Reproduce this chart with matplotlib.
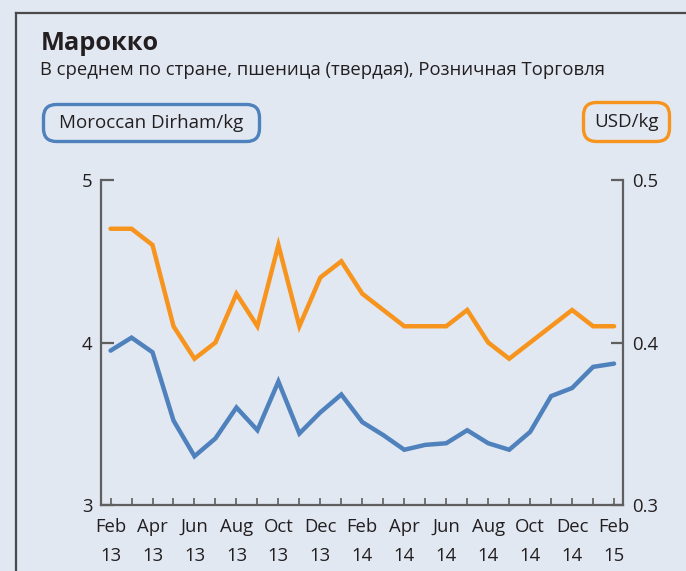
import matplotlib
matplotlib.use("Agg")
import matplotlib.pyplot as plt
from matplotlib.patches import FancyBboxPatch
from matplotlib.transforms import IdentityTransform
from matplotlib.lines import Line2D

# ---- data ----
months = ["Feb 13", "Mar 13", "Apr 13", "May 13", "Jun 13", "Jul 13", "Aug 13",
          "Sep 13", "Oct 13", "Nov 13", "Dec 13", "Jan 14", "Feb 14", "Mar 14",
          "Apr 14", "May 14", "Jun 14", "Jul 14", "Aug 14", "Sep 14", "Oct 14",
          "Nov 14", "Dec 14", "Jan 15", "Feb 15"]
tick_labels = ["Feb\n13", "", "Apr\n13", "", "Jun\n13", "", "Aug\n13", "", "Oct\n13", "",
               "Dec\n13", "", "Feb\n14", "", "Apr\n14", "", "Jun\n14", "", "Aug\n14", "",
               "Oct\n14", "", "Dec\n14", "", "Feb\n15"]
mad_per_kg = [3.95, 4.03, 3.94, 3.52, 3.30, 3.41, 3.60, 3.46, 3.76, 3.44, 3.57, 3.68,
              3.51, 3.43, 3.34, 3.37, 3.38, 3.46, 3.38, 3.34, 3.45, 3.67, 3.72, 3.85, 3.87]
usd_per_kg = [0.47, 0.47, 0.46, 0.41, 0.39, 0.40, 0.43, 0.41, 0.46, 0.41, 0.44, 0.45,
              0.43, 0.42, 0.41, 0.41, 0.41, 0.42, 0.40, 0.39, 0.40, 0.41, 0.42, 0.41, 0.41]
left_ticks = [3, 4, 5]
right_ticks = [0.3, 0.4, 0.5]

BG = "#E1E8F2"
BLUE = "#4F81BD"
ORANGE = "#F7941D"
TXT = "#231F20"
AXC = "#5F5F5F"
FONT = "Open Sans"

W, H = 686, 571
fig = plt.figure(figsize=(W / 100, H / 100), dpi=100, facecolor=BG)
plt.rcParams['font.family'] = [FONT, 'DejaVu Sans']

ax = fig.add_axes([100.7 / W, 1 - 505 / H, (623.3 - 100.7) / W, (505 - 180) / H])
ax.set_facecolor("none")
ax2 = ax.twinx()

x = list(range(len(months)))
ax.plot(x, mad_per_kg, color=BLUE, lw=3.2, solid_capstyle='round', solid_joinstyle='miter', zorder=3)
ax2.plot(x, usd_per_kg, color=ORANGE, lw=3.2, solid_capstyle='round', solid_joinstyle='miter', zorder=3)

ax.set_xlim(-0.47, 24.44)
ax.set_ylim(3, 5)
ax2.set_ylim(0.3, 0.5)

for a in (ax, ax2):
    for s in a.spines.values():
        s.set_visible(False)
ax.spines['left'].set_visible(True)
ax.spines['bottom'].set_visible(True)
ax2.spines['right'].set_visible(True)
for s in (ax.spines['left'], ax.spines['bottom'], ax2.spines['right']):
    s.set_color(AXC)
    s.set_linewidth(1.6)

ax.set_yticks(left_ticks)
ax.set_yticklabels([str(v) for v in left_ticks])
ax2.set_yticks(right_ticks)
ax2.set_yticklabels([str(v) for v in right_ticks])
ax.tick_params(axis='y', direction='in', length=9, width=1.6, color=AXC,
               labelsize=13.3, labelcolor=TXT, pad=6)
ax2.tick_params(axis='y', direction='in', length=9, width=1.6, color=AXC,
                labelsize=13.3, labelcolor=TXT, pad=6)
ax.set_xticks(x)
ax.set_xticklabels(tick_labels, linespacing=1.75)
ax.tick_params(axis='x', direction='in', length=5, width=1.2, color=AXC,
               labelsize=13.3, labelcolor=TXT, pad=9.5)

# frame border
fig.add_artist(Line2D([15.5, 15.5], [0, H - 12.7], transform=IdentityTransform(),
                      color="#4A4A4A", lw=1.6))
fig.add_artist(Line2D([15.5, W + 5], [H - 12.7, H - 12.7], transform=IdentityTransform(),
                      color="#4A4A4A", lw=1.6))

# titles
fig.text(40.5 / W, 1 - 50 / H, "Марокко", fontsize=18.3, fontweight='bold',
         color=TXT, va='baseline', ha='left')
fig.text(40.5 / W, 1 - 75 / H, "В среднем по стране, пшеница (твердая), Розничная Торговля",
         fontsize=13.3, color=TXT, va='baseline', ha='left')

# legend boxes
def unit_box(x0, y0, x1, y1, color, label):
    p = FancyBboxPatch((x0, H - y1), x1 - x0, y1 - y0,
                       boxstyle="round,pad=0,rounding_size=13",
                       transform=IdentityTransform(), facecolor="none",
                       edgecolor=color, lw=2.4)
    fig.add_artist(p)
    fig.text((x0 + x1) / 2 / W, 1 - (y0 + y1) / 2 / H, label, fontsize=13.5,
             color=TXT, ha='center', va='center')

unit_box(43.5, 104.5, 259.5, 141.5, BLUE, "Moroccan Dirham/kg")
unit_box(583.5, 102.5, 669.5, 141.5, ORANGE, "USD/kg")

fig.savefig("out.png", dpi=100, facecolor=BG)
